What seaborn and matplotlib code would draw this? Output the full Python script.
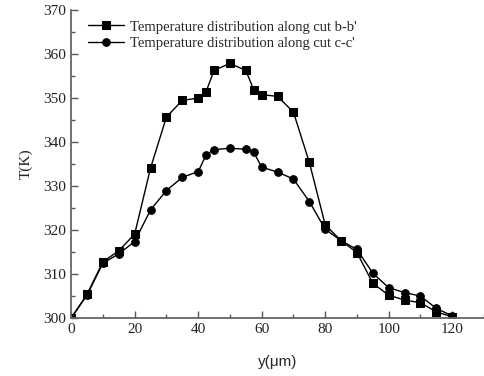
import seaborn as sns
import matplotlib.pyplot as plt
from matplotlib.ticker import MultipleLocator
import pandas as pd

# Données
y_um = [0, 5, 10, 15, 20, 25, 30, 35, 40, 42.5, 45, 50, 55, 57.5, 60, 65, 70,
        75, 80, 85, 90, 95, 100, 105, 110, 115, 120]
t_bb = [300, 305.4, 312.8, 315.3, 319.1, 334.1, 345.7, 349.5, 350.0, 351.5, 356.3,
        357.9, 356.3, 351.9, 350.8, 350.4, 346.8, 335.4, 321.2, 317.6, 314.9,
        307.9, 305.2, 304.1, 303.5, 301.4, 300.3]
t_cc = [300, 305.2, 312.5, 314.6, 317.4, 324.6, 329.0, 332.0, 333.3, 337.1, 338.3,
        338.6, 338.4, 337.7, 334.3, 333.2, 331.6, 326.5, 320.2, 317.6, 315.6,
        310.2, 306.9, 305.8, 305.0, 302.2, 300.5]
labels = ["Temperature distribution along cut b-b'",
          "Temperature distribution along cut c-c'"]

df = pd.concat([
    pd.DataFrame({'y': y_um, 'T': t_bb, 'cut': labels[0]}),
    pd.DataFrame({'y': y_um, 'T': t_cc, 'cut': labels[1]}),
])

sns.set_style("ticks")
plt.rcParams['font.family'] = ['Liberation Serif', 'DejaVu Serif']

fig = plt.figure(figsize=(4.84, 3.76), dpi=100)
ax = fig.add_axes([0.147, 0.154, 0.853, 0.819])

sns.lineplot(data=df, x='y', y='T', hue='cut', style='cut',
             palette=['black', 'black'], markers=['s', 'o'], dashes=False,
             markersize=5.5, linewidth=1, markeredgecolor='black', ax=ax)

ax.set_xlim(0, 130)
ax.set_ylim(300, 370)
ax.xaxis.set_minor_locator(MultipleLocator(10))
ax.yaxis.set_major_locator(MultipleLocator(10))
ax.yaxis.set_minor_locator(MultipleLocator(5))
ax.set_xticks([0, 20, 40, 60, 80, 100, 120])
ax.tick_params(which='major', direction='in', length=5, width=1, labelsize=11,
               color='#555555', labelcolor='#222222')
ax.tick_params(which='minor', direction='in', length=3, width=1, color='#555555')
for s in ['top', 'right']:
    ax.spines[s].set_visible(False)
for s in ['left', 'bottom']:
    ax.spines[s].set_color('#666666')
    ax.spines[s].set_linewidth(1.3)

ax.set_xlabel('y(\u03bcm)', fontsize=11, family=['Liberation Sans', 'DejaVu Sans'], labelpad=14)
ax.set_ylabel('T(K)', fontsize=11, labelpad=8)

leg = ax.legend(loc='upper left', bbox_to_anchor=(0.015, 1.0), frameon=False,
                fontsize=10.5, handlelength=2.5, handletextpad=0.4,
                labelspacing=0.25, borderaxespad=0.3)
leg.set_title(None)

fig.savefig('out.png', dpi=100, facecolor='white')
